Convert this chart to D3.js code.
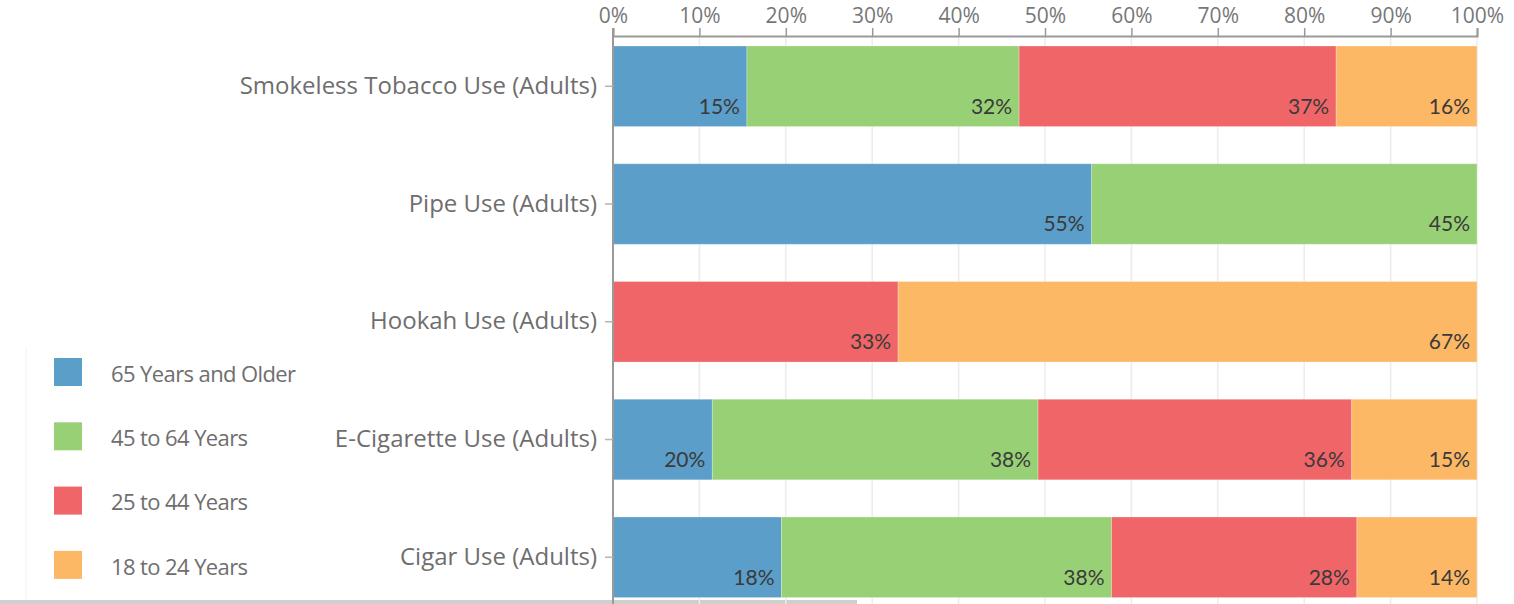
<!DOCTYPE html>
<html>
<head>
<meta charset="utf-8">
<script src="https://cdn.jsdelivr.net/npm/d3@7"></script>
<style>
  html, body { margin: 0; padding: 0; background: #fff; overflow: hidden; }
  svg { display: block; }
</style>
</head>
<body>
<svg id="chart" width="1514" height="604"></svg>
<script>
/* Tobacco use by age group — 100% stacked horizontal bars */
var categories = [
  'Smokeless Tobacco Use (Adults)',
  'Pipe Use (Adults)',
  'Hookah Use (Adults)',
  'E-Cigarette Use (Adults)',
  'Cigar Use (Adults)'
];
var seriesNames = ['65 Years and Older', '45 to 64 Years', '25 to 44 Years', '18 to 24 Years'];
var seriesColors = ['#5b9ec9', '#98d175', '#f06668', '#fdb866'];

/* segment widths as drawn (percent of bar) */
var values65 = [15.5, 55.4, 0, 11.5, 19.5];
var values45 = [31.5, 44.6, 0, 37.7, 38.2];
var values25 = [36.7, 0, 33.0, 36.3, 28.4];
var values18 = [16.3, 0, 67.0, 14.5, 13.9];

/* printed data labels */
var labels65 = ['15%', '55%', null, '20%', '18%'];
var labels45 = ['32%', '45%', null, '38%', '38%'];
var labels25 = ['37%', null, '33%', '36%', '28%'];
var labels18 = ['16%', null, '67%', '15%', '14%'];

var xTicks = [0, 10, 20, 30, 40, 50, 60, 70, 80, 90, 100];

(function () {
  'use strict';
  var svg = d3.select('#chart');
  var left = 613, right = 1477, top = 36;

  var seriesVals = [values65, values45, values25, values18];
  var seriesLabels = [labels65, labels45, labels25, labels18];

  var rows = categories.map(function (c, i) {
    var r = { cat: c };
    seriesNames.forEach(function (s, j) { r[s] = seriesVals[j][i]; });
    return r;
  });
  var stacked = d3.stack().keys(seriesNames)(rows);

  var x = d3.scaleLinear().domain([0, 100]).range([left, right]);
  var y = d3.scaleBand().domain(categories)
    .range([27.4, 27.4 + 117.75 * 5])
    .paddingInner(0.316).paddingOuter(0.158);

  /* legend frame */
  svg.append('line')
    .attr('x1', 26).attr('x2', 26).attr('y1', 348).attr('y2', 600)
    .attr('stroke', '#f2f2f2').attr('stroke-width', 1);
  svg.append('rect')
    .attr('x', 0).attr('y', 600).attr('width', 857).attr('height', 4)
    .attr('fill', '#cfcfcf');

  /* gridlines */
  svg.append('g').selectAll('line')
    .data(xTicks.filter(function (t) { return t > 0; }))
    .enter().append('line')
    .attr('x1', function (d) { return x(d); }).attr('x2', function (d) { return x(d); })
    .attr('y1', top).attr('y2', 604)
    .attr('stroke', '#ececec').attr('stroke-width', 1.5);

  /* bars */
  var layer = svg.append('g').selectAll('g')
    .data(stacked).enter().append('g')
    .attr('fill', function (d, i) { return seriesColors[i]; });
  layer.selectAll('rect')
    .data(function (d) { return d.filter(function (p) { return p[1] - p[0] > 0; }); })
    .enter().append('rect')
    .attr('x', function (p) { return x(p[0]); })
    .attr('y', function (p) { return y(p.data.cat); })
    .attr('width', function (p) { return x(p[1]) - x(p[0]); })
    .attr('height', y.bandwidth())
    .attr('stroke', 'rgba(255,255,255,0.25)').attr('stroke-width', 1);

  /* data labels */
  var lab = svg.append('g')
    .style('font-family', 'Lato, "Open Sans", sans-serif')
    .style('font-size', '21px').style('fill', '#3a3a3a');
  stacked.forEach(function (s, j) {
    s.forEach(function (p, i) {
      var t = seriesLabels[j][i];
      if (!t || p[1] - p[0] <= 0) return;
      lab.append('text')
        .attr('x', x(p[1]) - 7)
        .attr('y', y(p.data.cat) + y.bandwidth() - 13)
        .attr('text-anchor', 'end')
        .text(t);
    });
  });

  /* top axis */
  var xAxis = svg.append('g')
    .attr('transform', 'translate(0,' + top + ')')
    .call(d3.axisTop(x).tickValues(xTicks).tickSize(8).tickPadding(5)
      .tickFormat(function (d) { return d + '%'; }));
  xAxis.select('.domain').attr('stroke', '#999').attr('stroke-width', 2);
  xAxis.selectAll('.tick line').attr('stroke', '#999').attr('stroke-width', 1.5);
  xAxis.selectAll('.tick text')
    .style('font-family', '"Open Sans", sans-serif').style('font-size', '21px')
    .style('fill', '#777');

  /* left axis */
  var yAxis = svg.append('g')
    .attr('transform', 'translate(' + left + ',0)')
    .call(d3.axisLeft(y).tickSize(8).tickPadding(8).tickSizeOuter(0));
  yAxis.select('.domain').attr('d', 'M0,28V604').attr('stroke', '#999').attr('stroke-width', 2);
  yAxis.selectAll('.tick line').attr('stroke', '#b5b5b5').attr('stroke-width', 1.5);
  yAxis.selectAll('.tick text')
    .style('font-family', '"Open Sans", sans-serif').style('font-size', '24px')
    .style('fill', '#6e6e6e');

  /* legend */
  var leg = svg.append('g').selectAll('g')
    .data(seriesNames).enter().append('g')
    .attr('transform', function (d, i) { return 'translate(54,' + (358 + i * 64.3) + ')'; });
  leg.append('rect')
    .attr('width', 28).attr('height', 28)
    .attr('fill', function (d, i) { return seriesColors[i]; });
  leg.append('text')
    .attr('x', 57).attr('y', 16).attr('dy', '0.35em')
    .style('font-family', '"Open Sans", sans-serif').style('font-size', '22px')
    .style('letter-spacing', '-0.6px')
    .style('fill', '#6e6e6e')
    .text(function (d) { return d; });
})();
</script>
</body>
</html>
